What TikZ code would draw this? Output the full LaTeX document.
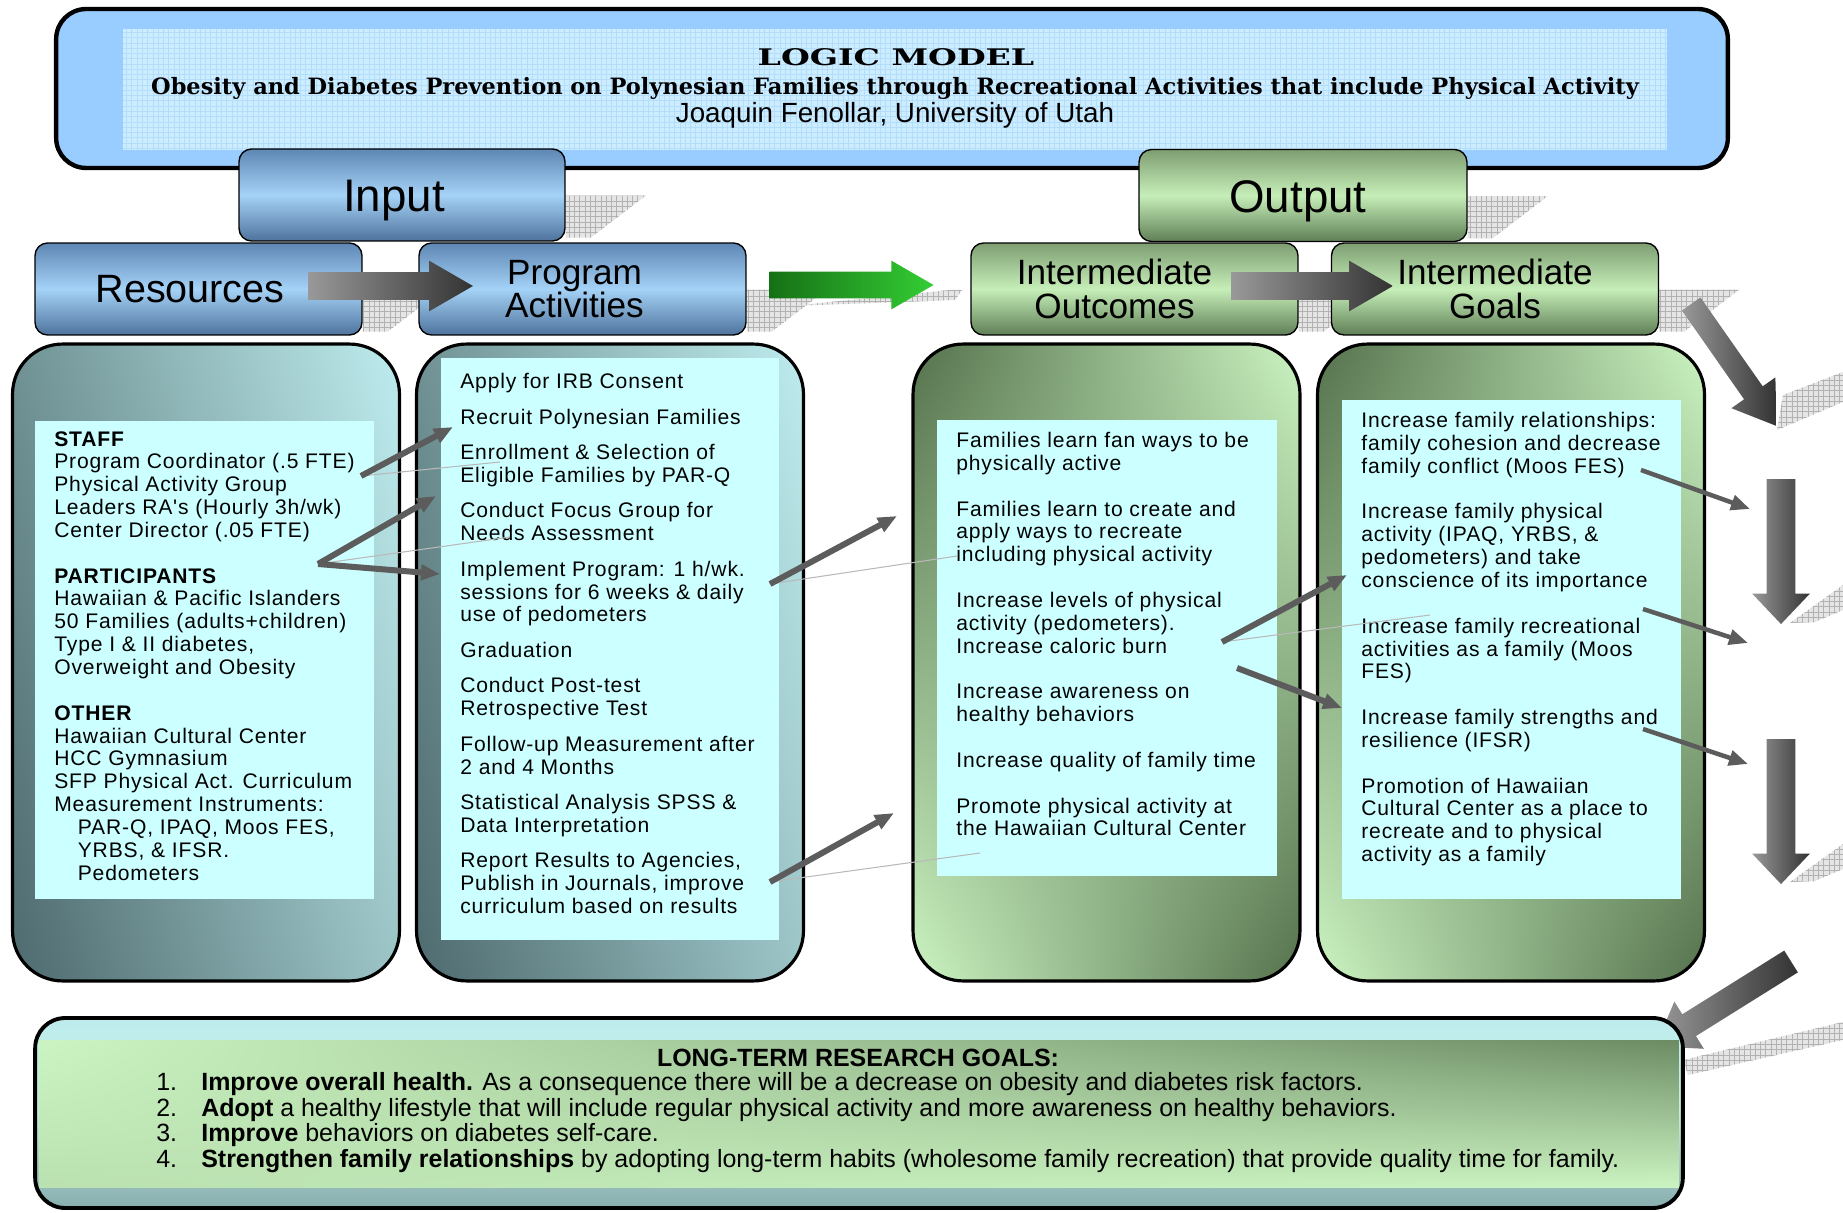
\documentclass[tikz,border=0pt]{standalone}
\usepackage{fontspec}
\setmainfont{Liberation Sans}
\newfontfamily\bodyfont[LetterSpace=4]{Liberation Sans}
\newfontfamily\logofont[FakeStretch=1.45]{DejaVu Serif}
\newfontfamily\subtitlefont{DejaVu Serif}
\usepackage{tikz}
\usetikzlibrary{arrows.meta,positioning,shapes.arrows,patterns,backgrounds,shadings}

\definecolor{titleblue}{RGB}{153,204,255}
\definecolor{titlepanel}{RGB}{204,236,255}
\definecolor{titlegrid}{RGB}{180,221,250}
\definecolor{bluetop}{RGB}{94,135,180}
\definecolor{bluemid}{RGB}{165,210,247}
\definecolor{bluebot}{RGB}{78,115,156}
\definecolor{greentop}{RGB}{126,158,114}
\definecolor{greenmid}{RGB}{198,238,184}
\definecolor{greenbot}{RGB}{95,127,86}
\definecolor{tealdark}{RGB}{78,106,110}
\definecolor{tealmid}{RGB}{112,146,148}
\definecolor{teallight}{RGB}{190,236,238}
\definecolor{leafdark}{RGB}{84,113,76}
\definecolor{leaflight}{RGB}{204,244,194}
\definecolor{paleaqua}{RGB}{204,255,255}
\definecolor{arrowgray}{RGB}{92,92,92}
\definecolor{arrowgreenA}{RGB}{22,112,22}
\definecolor{arrowgreenB}{RGB}{52,206,52}

\begin{document}
\begin{tikzpicture}[x=0.02cm, y=-0.02cm,
    headblue/.style={draw=black, line width=0.8pt, rounded corners=0.25cm,
      top color=bluetop, bottom color=bluebot, middle color=bluemid,
      minimum width=6.54cm, minimum height=1.84cm, inner sep=0pt, align=center,
      font=\fontsize{20}{19}\selectfont},
    headgreen/.style={headblue, top color=greentop, bottom color=greenbot, middle color=greenmid},
    panelteal/.style={draw=black, line width=1.8pt, rounded corners=1cm,
      minimum width=7.74cm, minimum height=12.74cm,
      upper left=tealmid, upper right=teallight, lower left=tealdark, lower right=teallight!70!tealdark},
    panelgreen/.style={panelteal, upper left=leafdark, upper right=leaflight, lower left=leaflight, lower right=leafdark},
    innerbox/.style={fill=paleaqua, inner sep=0pt},
    bodytext/.style={anchor=north west, align=left, inner sep=0pt, font=\bodyfont\fontsize{12}{13}\selectfont},
    blockarrow/.style={single arrow, draw=none, inner xsep=0pt, minimum width=0pt,
      left color=black!40, right color=black!80},
    thinarrow/.style={-{Triangle[length=0.38cm,width=0.3cm]}, line width=0.12cm, arrowgray},
    faintline/.style={gray!55, line width=0.6pt},
    shadowgrid/.style={fill=gray!20, postaction={pattern=grid, pattern color=gray!60}}]

    \useasboundingbox (0,0) rectangle (1843,1213);

    % Title
    \node[draw=black, line width=2.5pt, rounded corners=0.6cm, fill=titleblue,
      minimum width=33.44cm, minimum height=3.18cm] (ttl) at (892,88.5) {};
    \node[fill=titlepanel, postaction={pattern=grid, pattern color=titlegrid},
      minimum width=30.88cm, minimum height=2.42cm] (ttlpanel) at (895,89.5) {};
    \node[font=\logofont\bfseries\fontsize{13}{15}\selectfont] (logic) at (896,57) {LOGIC MODEL};
    \node[font=\subtitlefont\bfseries\fontsize{12.8}{14}\selectfont] (subttl) at (895,88) {Obesity and Diabetes Prevention on Polynesian Families through Recreational Activities that include Physical Activity};
    \node[font=\fontsize{15.8}{17}\selectfont] (author) at (895,115) {Joaquin Fenollar, University of Utah};

    % Input and Output
    \node[headblue, minimum width=6.52cm, font=\fontsize{26}{28}\selectfont] (inp) at (402,195) {\raisebox{-0.33cm}[0pt][0pt]{Input}\hspace*{0.32cm}};
    \node[headgreen, minimum width=6.56cm, font=\fontsize{26}{28}\selectfont] (outp) at (1303,195.5) {\raisebox{-0.34cm}[0pt][0pt]{Output}\hspace*{0.2cm}};

    % Headings
    \node[headblue, font=\fontsize{22.5}{22}\selectfont] (res) at (198.5,289) {Resources\hspace*{0.34cm}};
    \node[headblue] (prog) at (582.5,289) {Program\hspace*{0.32cm}\\Activities\hspace*{0.32cm}};
    \node[headgreen] (iout) at (1134.5,289) {Intermediate\hspace*{0.8cm}\\Outcomes\hspace*{0.8cm}};
    \node[headgreen] (igoal) at (1495,289) {Intermediate\\Goals};

    % Block arrows between headings
    \node[blockarrow, minimum height=3.3cm, inner ysep=0.27cm, single arrow head extend=0.23cm,
      single arrow tip angle=60] (resarrow) at (378.5,286) {};
    \node[blockarrow, minimum height=3.28cm, inner ysep=0.26cm, single arrow head extend=0.22cm,
      single arrow tip angle=60, left color=arrowgreenA, right color=arrowgreenB] (midarrow) at (840,285) {};
    \node[blockarrow, minimum height=3.24cm, inner ysep=0.27cm, single arrow head extend=0.23cm,
      single arrow tip angle=60] (ioutarrow) at (1300,286) {};

    % Shadows
    \begin{scope}[on background layer]
      \fill[shadowgrid] (inp.south east) ++(0,-46) -- ++(80,0) -- ++(-55,42) -- ++(-25,0) -- cycle;
      \fill[shadowgrid] (outp.south east) ++(0,-46) -- ++(80,0) -- ++(-55,42) -- ++(-25,0) -- cycle;
      \fill[shadowgrid] (res.south east) ++(0,-46) -- ++(80,0) -- ++(-55,42) -- ++(-25,0) -- cycle;
      \fill[shadowgrid] (prog.south east) ++(0,-46) -- ++(80,0) -- ++(-55,42) -- ++(-25,0) -- cycle;
      \fill[shadowgrid] (iout.south east) ++(0,-46) -- ++(80,0) -- ++(-55,42) -- ++(-25,0) -- cycle;
      \fill[shadowgrid] (igoal.south east) ++(0,-46) -- ++(80,0) -- ++(-55,42) -- ++(-25,0) -- cycle;
      \fill[shadowgrid] (790,306) -- (950,290) -- (962,290) -- (955,300) -- cycle;
      \fill[shadowgrid] (1777,430) -- (1783,395) -- (1843,372) -- (1843,402) -- cycle;
      \fill[shadowgrid] (1790,623) -- (1843,585) -- (1843,610) -- (1815,622) -- cycle;
      \fill[shadowgrid] (1790,882) -- (1843,844) -- (1843,869) -- (1815,881) -- cycle;
      \fill[shadowgrid] (1683,1060) -- (1843,1022) -- (1843,1040) -- (1688,1075) -- cycle;
    \end{scope}

    % Resources panel
    \node[panelteal] (respanel) at (206,662.5) {};
    \node[innerbox, minimum width=6.78cm, minimum height=9.56cm] (resinner) at (204.5,660) {};
    \node[bodytext] (restext) at (54,431) {\textbf{STAFF}\\
      Program Coordinator (.5 FTE)\\
      Physical Activity Group\\
      Leaders RA's (Hourly 3h/wk)\\
      Center Director (.05 FTE)\\[13pt]
      \textbf{PARTICIPANTS}\\
      Hawaiian \& Pacific Islanders\\
      50 Families (adults+children)\\
      Type I \& II diabetes,\\
      Overweight and Obesity\\[13pt]
      \textbf{OTHER}\\
      Hawaiian Cultural Center\\
      HCC Gymnasium\\
      SFP Physical Act. Curriculum\\
      Measurement Instruments:\\
      \hspace*{0.47cm}PAR-Q, IPAQ, Moos FES,\\
      \hspace*{0.47cm}YRBS, \& IFSR.\\
      \hspace*{0.47cm}Pedometers};

    % Program panel
    \node[panelteal] (progpanel) at (610,662.5) {};
    \node[innerbox, minimum width=6.76cm, minimum height=11.64cm] (proginner) at (610,649) {};
    \node[bodytext] (progtext) at (460,373) {Apply for IRB Consent\\[7.2pt]
      Recruit Polynesian Families\\[7.2pt]
      Enrollment \& Selection of\\
      Eligible Families by PAR-Q\\[7.2pt]
      Conduct Focus Group for\\
      Needs Assessment\\[7.2pt]
      Implement Program: 1 h/wk.\\
      sessions for 6 weeks \& daily\\
      use of pedometers\\[7.2pt]
      Graduation\\[7.2pt]
      Conduct Post-test\\
      Retrospective Test\\[7.2pt]
      Follow-up Measurement after\\
      2 and 4 Months\\[7.2pt]
      Statistical Analysis SPSS \&\\
      Data Interpretation\\[7.2pt]
      Report Results to Agencies,\\
      Publish in Journals, improve\\
      curriculum based on results};

    % Intermediate outcomes panel
    \node[panelgreen] (ioutpanel) at (1106.5,662.5) {};
    \node[innerbox, minimum width=6.8cm, minimum height=9.12cm] (ioutinner) at (1107,648) {};
    \node[bodytext] (iouttext) at (956,432) {Families learn fan ways to be\\
      physically active\\[13pt]
      Families learn to create and\\
      apply ways to recreate\\
      including physical activity\\[13pt]
      Increase levels of physical\\
      activity (pedometers).\\
      Increase caloric burn\\[13pt]
      Increase awareness on\\
      healthy behaviors\\[13pt]
      Increase quality of family time\\[13pt]
      Promote physical activity at\\
      the Hawaiian Cultural Center};

    % Intermediate goals panel
    \node[panelgreen] (igoalpanel) at (1511,662.5) {};
    \node[innerbox, minimum width=6.78cm, minimum height=9.98cm] (igoalinner) at (1511.5,649.5) {};
    \node[bodytext] (igoaltext) at (1361,412) {Increase family relationships:\\
      family cohesion and decrease\\
      family conflict (Moos FES)\\[13pt]
      Increase family physical\\
      activity (IPAQ, YRBS, \&\\
      pedometers) and take\\
      conscience of its importance\\[13pt]
      Increase family recreational\\
      activities as a family (Moos\\
      FES)\\[13pt]
      Increase family strengths and\\
      resilience (IFSR)\\[13pt]
      Promotion of Hawaiian\\
      Cultural Center as a place to\\
      recreate and to physical\\
      activity as a family};

    % Connector ends
    \coordinate (staffEnd) at (361,476);
    \coordinate (partEnd) at (318,564);
    \coordinate (recruitIn) at (453,427);
    \coordinate (focusIn) at (436,496);
    \coordinate (implIn) at (440,574);
    \coordinate (implEnd) at (770,584);
    \coordinate (reportEnd) at (770,882);
    \coordinate (learnIn) at (897,516);
    \coordinate (promoteIn) at (894,813);
    \coordinate (levelsEnd) at (1222,642);
    \coordinate (burnEnd) at (1237,668);
    \coordinate (physIn) at (1347,575);
    \coordinate (strengthIn) at (1342,708);
    \coordinate (relEnd) at (1641,470);
    \coordinate (recEnd) at (1643,609);
    \coordinate (resilEnd) at (1643,729);
    \coordinate (relOut) at (1750,509);
    \coordinate (recOut) at (1748,643);
    \coordinate (resilOut) at (1748,764);

    % Faint shadows of the connectors
    \draw[faintline] (staffEnd) -- (500,462);
    \draw[faintline] (partEnd) -- (510,537);
    \draw[faintline] (implEnd) -- (957,556);
    \draw[faintline] (reportEnd) -- (980,853);
    \draw[faintline] (levelsEnd) -- (1430,615);

    % Connectors
    \draw[thinarrow] (staffEnd) -- (recruitIn);
    \draw[thinarrow] (partEnd) -- (focusIn);
    \draw[thinarrow] (partEnd) -- (implIn);
    \draw[thinarrow] (implEnd) -- (learnIn);
    \draw[thinarrow] (reportEnd) -- (promoteIn);
    \draw[thinarrow] (levelsEnd) -- (physIn);
    \draw[thinarrow] (burnEnd) -- (strengthIn);
    \draw[thinarrow, line width=0.09cm] (relEnd) -- (relOut);
    \draw[thinarrow, line width=0.09cm] (recEnd) -- (recOut);
    \draw[thinarrow, line width=0.09cm] (resilEnd) -- (resilOut);

    % Arrows on the right
    \node[blockarrow, rotate=-55, minimum height=2.98cm, inner ysep=0.22cm,
      single arrow head extend=0.31cm, single arrow tip angle=67] (goalarrow) at (1729,358) {};
    \node[blockarrow, rotate=-90, minimum height=2.9cm, inner ysep=0.28cm,
      single arrow head extend=0.29cm, single arrow tip angle=87] (downA) at (1781,544) {};
    \node[blockarrow, rotate=-90, minimum height=2.9cm, inner ysep=0.28cm,
      single arrow head extend=0.29cm, single arrow tip angle=87] (downB) at (1781,804) {};
    \node[blockarrow, rotate=-148, minimum height=3.2cm, inner ysep=0.25cm,
      single arrow head extend=0.3cm, single arrow tip angle=70] (longarrow) at (1731,999) {};

    % Long-term research goals
    \node[draw=black, line width=2.2pt, rounded corners=0.6cm,
      top color=teallight, bottom color=tealmid!70!teallight, middle color=teallight!60!leaflight,
      minimum width=32.96cm, minimum height=3.8cm] (ltbox) at (859,1113) {};
    \node[inner sep=0pt, minimum width=32.8cm, minimum height=2.96cm,
      upper left=leaflight, upper right=leafdark!80!leaflight, lower left=leaflight!85!leafdark, lower right=leaflight] (ltband) at (859,1114) {};
    \node[font=\bfseries\fontsize{14.2}{15}\selectfont] (lttitle) at (858,1058) {LONG-TERM RESEARCH GOALS:};
    \node[anchor=north west, align=left, inner sep=0pt, font=\fontsize{14.2}{14.6}\selectfont] (ltlist) at (156,1072) {%
      \makebox[0.9cm][l]{1.}\textbf{Improve overall health.} As a consequence there will be a decrease on obesity and diabetes risk factors.\\
      \makebox[0.9cm][l]{2.}\textbf{Adopt} a healthy lifestyle that will include regular physical activity and more awareness on healthy behaviors.\\
      \makebox[0.9cm][l]{3.}\textbf{Improve} behaviors on diabetes self-care.\\
      \makebox[0.9cm][l]{4.}\textbf{Strengthen family relationships} by adopting long-term habits (wholesome family recreation) that provide quality time for family.};
\end{tikzpicture}
\end{document}
